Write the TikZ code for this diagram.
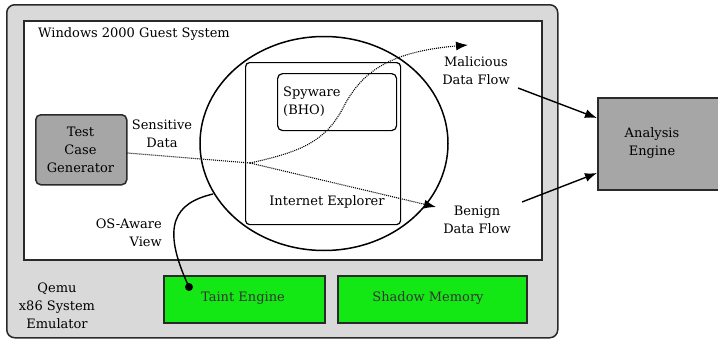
\documentclass[tikz,border=0pt]{standalone}
\usepackage{fontspec}
\setmainfont{DejaVu Serif}
\usetikzlibrary{arrows.meta,calc,shapes.geometric}
\definecolor{outergray}{HTML}{D9D9D9}
\definecolor{boxgray}{HTML}{A6A6A6}
\definecolor{taintgreen}{HTML}{14E814}
\definecolor{edgecol}{HTML}{2A2A2A}
\tikzset{
  lbl/.style={font=\fontsize{13}{18}\selectfont, text=black, inner sep=0pt, align=center},
  frame/.style={draw=edgecol, line width=1.5pt},
  thinframe/.style={draw=black, line width=1.2pt},
  greenbox/.style={frame, fill=taintgreen, minimum height=47pt},
  dotflow/.style={line width=1.1pt, dash pattern=on 1pt off 1pt},
  tip/.style={-{Latex[length=12pt,width=9pt]}},
  solidarrow/.style={line width=1.4pt, tip},
}
\begin{document}
\begin{tikzpicture}[x=1pt,y=-1pt]
\useasboundingbox (0,0) rectangle (718,340);
% outer emulator
\node[frame, fill=outergray, rounded corners=8pt, minimum width=551pt, minimum height=333pt, anchor=north west] (qemu) at (6,4) {};
% guest system
\node[frame, fill=white, minimum width=518pt, minimum height=239pt, anchor=north west] (guest) at (23,20) {};
\node[lbl, anchor=west] (guesttitle) at (38,34) {Windows 2000 Guest System};
% ellipse
\node[draw=black, line width=1.5pt, ellipse, minimum width=248pt, minimum height=214pt] (ell) at (324,143.5) {};
% internet explorer
\node[thinframe, rounded corners=4pt, minimum width=155pt, minimum height=162pt, anchor=north west] (ie) at (245,62) {};
\node[lbl] (ielbl) at (327,202) {Internet Explorer};
% spyware
\node[thinframe, rounded corners=5pt, minimum width=119pt, minimum height=57pt, anchor=north west] (spy) at (277,73) {};
\node[lbl, align=left, anchor=west] (spylbl) at (283,101.5) {Spyware\\(BHO)};
% test case generator
\node[frame, fill=boxgray, rounded corners=5pt, minimum width=91pt, minimum height=70pt, anchor=north west] (tcg) at (35,114) {};
\node[lbl] (tcglbl) at (80.5,149.5) {Test\\Case\\Generator};
\node[lbl] (sens) at (162,134) {Sensitive\\Data};
% flows
\coordinate (branch) at (250,163);
\coordinate (benigntip) at (436,207);
\coordinate (maltip) at (468,45);
\draw[dotflow] ($(tcg.north east)+(0,39)$) -- (branch);
\draw[dotflow, tip] (branch) -- (benigntip);
\draw[dotflow, tip] (branch) .. controls (300,152) and (325,142) .. (343,108)
  .. controls (360,75) and (385,52) .. (maltip);
\node[lbl] (mal) at (476,71) {Malicious\\Data Flow};
\node[lbl] (ben) at (477,220) {Benign\\Data Flow};
% analysis engine
\node[frame, fill=boxgray, minimum width=121pt, minimum height=92pt, anchor=north west] (ana) at (597,97) {};
\node[lbl] (analbl) at (652,143.5) {Analysis\\Engine};
\coordinate (m1) at (518,88);
\coordinate (b1) at (522,202);
\draw[solidarrow] (m1) -- ($(ana.north west)+(0,21)$);
\draw[solidarrow] (b1) -- ($(ana.north west)+(0,76)$);
% bottom boxes
\node[greenbox, minimum width=161pt, anchor=north west] (taint) at (163,275) {};
\node[lbl, text=black!80] (taintlbl) at (243,298) {Taint Engine};
\node[greenbox, minimum width=189pt, anchor=north west] (shadow) at (337,275) {};
\node[lbl, text=black!80] (shadowlbl) at (428,298) {Shadow Memory};
\node[lbl] (qemulbl) at (57,306) {Qemu\\x86 System\\Emulator};
% os-aware view
\node[lbl, align=right, anchor=east] (osv) at (162,232.5) {OS-Aware\\View};
\node[circle, fill=black, inner sep=0pt, minimum size=8pt] (dot) at (189,287) {};
\coordinate (ellpt) at (213,194);
\draw[line width=1.4pt] (ellpt) .. controls (175,203) and (160,225) .. (dot.center);
\end{tikzpicture}
\end{document}
